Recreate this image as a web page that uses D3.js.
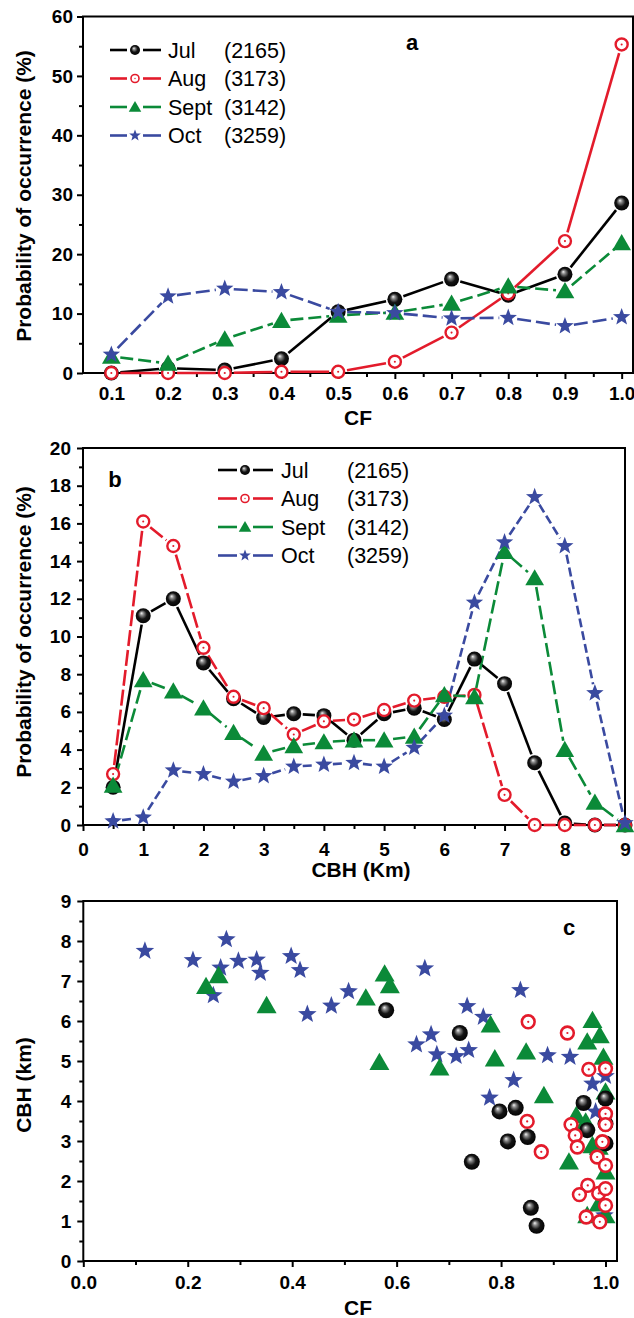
<!DOCTYPE html>
<html>
<head>
<meta charset="utf-8">
<script src="https://cdn.jsdelivr.net/npm/d3@7"></script>
<style>
  body { margin: 0; background: #fff; }
  text { font-family: "Liberation Sans", Arial, sans-serif; }
</style>
</head>
<body>
<div id="plot"></div>
<script>
// ---- data ----
var months = ["Jul", "Aug", "Sept", "Oct"];
var counts = ["(2165)", "(3173)", "(3142)", "(3259)"];

// panel a : probability vs cloud fraction
var cfBins = [0.1, 0.2, 0.3, 0.4, 0.5, 0.6, 0.7, 0.8, 0.9, 1.0];
var cfJul  = [0.0, 0.8, 0.5, 2.4, 10.3, 12.4, 15.8, 13.1, 16.6, 28.6];
var cfAug  = [0.0, 0.0, 0.0, 0.2, 0.2, 1.9, 6.8, 13.4, 22.2, 55.3];
var cfSept = [2.8, 1.6, 5.7, 8.8, 9.7, 10.2, 11.7, 14.6, 13.8, 21.9];
var cfOct  = [3.1, 12.9, 14.2, 13.6, 10.3, 10.1, 9.2, 9.3, 7.9, 9.4];

// panel b : probability vs cloud base height
var cbhBins = [0.5, 1, 1.5, 2, 2.5, 3, 3.5, 4, 4.5, 5, 5.5, 6, 6.5, 7, 7.5, 8, 8.5, 9];
var cbhJul  = [2.0, 11.1, 12.0, 8.6, 6.7, 5.7, 5.9, 5.8, 4.5, 5.9, 6.2, 5.6, 8.8, 7.5, 3.3, 0.1, 0.0, 0.0];
var cbhAug  = [2.7, 16.1, 14.8, 9.4, 6.8, 6.2, 4.8, 5.5, 5.6, 6.1, 6.6, 6.8, 6.9, 1.6, 0.0, 0.0, 0.0, 0.0];
var cbhSept = [2.1, 7.7, 7.1, 6.2, 4.9, 3.8, 4.2, 4.4, 4.5, 4.5, 4.7, 6.9, 6.8, 14.5, 13.1, 4.0, 1.2, 0.0];
var cbhOct  = [0.2, 0.4, 2.9, 2.7, 2.3, 2.6, 3.1, 3.2, 3.3, 3.1, 4.1, 5.8, 11.8, 15.0, 17.4, 14.8, 7.0, 0.1];

// panel c : scatter CBH vs CF
var scOctCF   = [0.118, 0.21, 0.274, 0.263, 0.249, 0.297, 0.332, 0.339, 0.398, 0.415, 0.429, 0.475, 0.508, 0.654, 0.735, 0.766, 0.837, 0.666, 0.638, 0.677, 0.714, 0.738, 0.889, 0.932, 0.824, 1.0, 0.975, 0.778, 0.981, 0.998];
var scOctCBH  = [7.75, 7.52, 8.04, 7.33, 6.64, 7.5, 7.53, 7.2, 7.62, 7.27, 6.17, 6.38, 6.74, 7.31, 6.37, 6.1, 6.77, 5.66, 5.41, 5.16, 5.12, 5.27, 5.14, 5.1, 4.52, 4.62, 4.43, 4.08, 3.73, 1.14];
var scSeptCF  = [0.235, 0.259, 0.351, 0.541, 0.577, 0.587, 0.567, 0.682, 0.78, 0.788, 0.848, 0.975, 0.989, 0.965, 0.996, 0.882, 1.0, 0.944, 0.962, 0.93, 0.975, 0.987, 1.0, 0.987, 0.965, 1.0];
var scSeptCBH = [6.87, 7.14, 6.39, 6.58, 7.18, 6.89, 4.97, 4.83, 5.91, 5.06, 5.23, 6.02, 5.64, 5.48, 5.1, 4.14, 4.23, 3.64, 3.48, 2.48, 2.89, 2.85, 2.23, 1.43, 1.14, 1.14];
var scJulCF   = [0.58, 0.721, 0.958, 1.0, 0.797, 0.828, 0.813, 0.851, 0.744, 0.857, 0.868, 1.0, 1.0, 0.965];
var scJulCBH  = [6.27, 5.7, 3.95, 4.06, 3.74, 3.83, 2.99, 3.1, 2.48, 1.33, 0.88, 2.94, 3.43, 3.27];
var scAugCF   = [0.852, 0.927, 0.968, 1.0, 0.85, 0.877, 0.934, 0.942, 0.946, 1.0, 1.0, 0.994, 0.984, 1.0, 0.966, 0.95, 0.987, 1.0, 1.0, 0.963, 0.989];
var scAugCBH  = [5.98, 5.7, 4.79, 4.81, 3.49, 2.73, 3.41, 3.14, 2.85, 3.68, 3.41, 2.98, 2.6, 2.39, 1.89, 1.66, 1.69, 1.81, 1.39, 1.1, 0.98];

var colors = ["#000000", "#e31b2b", "#0b8a38", "#3a4aa0"];

var width = 634, height = 1318;

var SVG = d3.select("#plot")
  .append("svg")
    .attr("width", width)
    .attr("height", height);

// sphere gradient for the black markers
var grad = SVG.append("defs").append("radialGradient")
    .attr("id", "sphere")
    .attr("cx", "0.5").attr("cy", "0.5").attr("r", "0.55")
    .attr("fx", "0.38").attr("fy", "0.32");
grad.append("stop").attr("offset", "0%").attr("stop-color", "#f4f4f4");
grad.append("stop").attr("offset", "22%").attr("stop-color", "#8a8a8a");
grad.append("stop").attr("offset", "55%").attr("stop-color", "#151515");
grad.append("stop").attr("offset", "100%").attr("stop-color", "#000");

function starPath(R) {
    var pts = [];
    for (var i = 0; i < 10; i++) {
        var r = i % 2 === 0 ? R : R * 0.42;
        var a = -Math.PI / 2 + i * Math.PI / 5;
        pts.push([r * Math.cos(a), r * Math.sin(a)]);
    }
    return "M" + pts.join("L") + "Z";
}

function triPath(s) {
    var h = s * Math.sqrt(3) / 2;
    return "M0," + (-h * 0.55) + "L" + (s / 2) + "," + (h * 0.45) + "L" + (-s / 2) + "," + (h * 0.45) + "Z";
}

// draw one marker of series k at (x, y)
function marker(g, k, x, y, size) {
    if (k === 0) {
        g.append("circle").attr("cx", x).attr("cy", y).attr("r", size)
            .attr("fill", "url(#sphere)");
    } else if (k === 1) {
        g.append("circle").attr("cx", x).attr("cy", y).attr("r", size * 0.8)
            .attr("fill", "#fff").attr("stroke", colors[1]).attr("stroke-width", size * 0.32);
        g.append("circle").attr("cx", x).attr("cy", y).attr("r", size * 0.14)
            .attr("fill", colors[1]);
    } else if (k === 2) {
        g.append("path").attr("d", triPath(size * 2.5))
            .attr("transform", "translate(" + x + "," + y + ")")
            .attr("fill", colors[2]);
    } else {
        g.append("path").attr("d", starPath(size * 1.22))
            .attr("transform", "translate(" + x + "," + y + ")")
            .attr("fill", colors[3]);
    }
}

// frame, axes and ticks of one panel
function drawFrame(p) {
    var g = SVG.append("g");
    g.append("rect")
        .attr("x", p.x.range()[0]).attr("y", p.y.range()[1])
        .attr("width", p.x.range()[1] - p.x.range()[0])
        .attr("height", p.y.range()[0] - p.y.range()[1])
        .attr("fill", "none").attr("stroke", "#000").attr("stroke-width", 2);

    g.append("g")
        .attr("transform", "translate(0," + p.y.range()[0] + ")")
        .call(d3.axisBottom(p.x).tickValues(p.xTicks).tickFormat(p.xFormat).tickSize(6).tickPadding(p.xPad));
    g.append("g")
        .attr("transform", "translate(0," + p.y.range()[0] + ")")
        .call(d3.axisBottom(p.x).tickValues(p.xMinor).tickFormat("").tickSize(4));

    g.append("g")
        .attr("transform", "translate(" + p.x.range()[0] + ",0)")
        .call(d3.axisLeft(p.y).tickValues(p.yTicks).tickFormat(p.yFormat).tickSize(6).tickPadding(p.yPad));
    g.append("g")
        .attr("transform", "translate(" + p.x.range()[0] + ",0)")
        .call(d3.axisLeft(p.y).tickValues(p.yMinor).tickFormat("").tickSize(4));

    g.selectAll(".domain").remove();
    g.selectAll(".tick line").attr("stroke", "#000").attr("stroke-width", 2);
    g.selectAll(".tick text")
        .attr("font-family", "Liberation Sans, Arial, sans-serif")
        .attr("font-weight", "bold")
        .attr("font-size", "19px")
        .attr("fill", "#000");

    // axis titles
    g.append("text")
        .attr("transform", "translate(" + p.yTitleX + "," + p.yTitleY + ") rotate(-90)")
        .attr("text-anchor", "middle")
        .attr("font-weight", "bold").attr("font-size", "21px")
        .text(p.yTitle);
    g.append("text")
        .attr("x", p.xTitleX).attr("y", p.xTitleY)
        .attr("text-anchor", "middle")
        .attr("font-weight", "bold").attr("font-size", "21px")
        .text(p.xTitle);

    // panel letter
    g.append("text")
        .attr("x", p.letterX).attr("y", p.letterY)
        .attr("text-anchor", "middle")
        .attr("font-family", "Liberation Serif, Times New Roman, serif")
        .attr("font-weight", "bold").attr("font-size", "22px")
        .text(p.letter);
    return g;
}

// line with gaps around each marker (Origin style)
function gappedLine(g, pts, color, dash, gap) {
    for (var i = 0; i < pts.length - 1; i++) {
        var x0 = pts[i][0], y0 = pts[i][1], x1 = pts[i + 1][0], y1 = pts[i + 1][1];
        var len = Math.sqrt((x1 - x0) * (x1 - x0) + (y1 - y0) * (y1 - y0));
        if (len <= 2 * gap) continue;
        var ux = (x1 - x0) / len, uy = (y1 - y0) / len;
        g.append("line")
            .attr("x1", x0 + ux * gap).attr("y1", y0 + uy * gap)
            .attr("x2", x1 - ux * gap).attr("y2", y1 - uy * gap)
            .attr("stroke", color).attr("stroke-width", 2.6)
            .attr("stroke-dasharray", dash);
    }
}

function drawLines(p, xs, series, dashes) {
    var g = SVG.append("g");
    series.forEach(function(vals, k) {
        var pts = vals.map(function(v, i) { return [p.x(xs[i]), p.y(v)]; });
        gappedLine(g, pts, colors[k], dashes[k], 9);
    });
    series.forEach(function(vals, k) {
        vals.forEach(function(v, i) { marker(g, k, p.x(xs[i]), p.y(v), 7.5); });
    });
}

function drawLegend(L) {
    var g = SVG.append("g");
    months.forEach(function(m, k) {
        var y = L.y + k * L.dy;
        g.append("line").attr("x1", L.x0).attr("x2", L.xm - 8).attr("y1", y).attr("y2", y)
            .attr("stroke", colors[k]).attr("stroke-width", 2.6);
        g.append("line").attr("x1", L.xm + 8).attr("x2", L.x1).attr("y1", y).attr("y2", y)
            .attr("stroke", colors[k]).attr("stroke-width", 2.6);
        marker(g, k, L.xm, y, 5);
        g.append("text").attr("x", L.tx).attr("y", y + 7.5)
            .attr("font-size", "21.5px").text(m);
        g.append("text").attr("x", L.cx).attr("y", y + 7.5)
            .attr("font-size", "21.5px").text(counts[k]);
    });
}

// ---- panel a ----
var pa = {
    x: d3.scaleLinear().domain([0.05, 1.02]).range([83, 633]),
    y: d3.scaleLinear().domain([0, 60]).range([373, 16.5]),
    xTicks: cfBins, xMinor: d3.range(0.15, 1.0, 0.1), xFormat: d3.format(".1f"), xPad: 8,
    yTicks: d3.range(0, 61, 10), yMinor: d3.range(5, 60, 10), yFormat: d3.format("d"), yPad: 4,
    yTitle: "Probability of occurrence (%)", yTitleX: 31, yTitleY: 196,
    xTitle: "CF", xTitleX: 358, xTitleY: 425,
    letter: "a", letterX: 412, letterY: 50
};
drawFrame(pa);
drawLines(pa, cfBins, [cfJul, cfAug, cfSept, cfOct], [null, null, "13,5", "14,5"]);
drawLegend({x0: 110, xm: 135, x1: 161, tx: 168, cx: 224, y: 50, dy: 28.5});

// ---- panel b ----
var pb = {
    x: d3.scaleLinear().domain([0, 9]).range([83, 625]),
    y: d3.scaleLinear().domain([0, 20]).range([825, 448]),
    xTicks: d3.range(0, 10, 1), xMinor: d3.range(0.5, 9, 1), xFormat: d3.format("d"), xPad: 12,
    yTicks: d3.range(0, 21, 2), yMinor: d3.range(1, 20, 2), yFormat: d3.format("d"), yPad: 6,
    yTitle: "Probability of occurrence (%)", yTitleX: 31, yTitleY: 632,
    xTitle: "CBH (Km)", xTitleX: 361, xTitleY: 877,
    letter: "b", letterX: 115, letterY: 487
};
drawFrame(pb);
drawLines(pb, cbhBins, [cbhJul, cbhAug, cbhSept, cbhOct], [null, "16,4", "14,5", "9,4"]);
drawLegend({x0: 218, xm: 245, x1: 273, tx: 281, cx: 347, y: 470, dy: 28.5});

// ---- panel c ----
var pc = {
    x: d3.scaleLinear().domain([0, 1.022]).range([83.3, 617]),
    y: d3.scaleLinear().domain([0, 9]).range([1261, 901]),
    xTicks: d3.range(0, 1.01, 0.2), xMinor: d3.range(0.1, 1.0, 0.2), xFormat: d3.format(".1f"), xPad: 9,
    yTicks: d3.range(0, 10, 1), yMinor: d3.range(0.5, 9, 1), yFormat: d3.format("d"), yPad: 6,
    yTitle: "CBH (km)", yTitleX: 31, yTitleY: 1085,
    xTitle: "CF", xTitleX: 358, xTitleY: 1315,
    letter: "c", letterX: 569, letterY: 935
};
drawFrame(pc);

var scatter = SVG.append("g");
var scSets = [[scOctCF, scOctCBH, 3], [scSeptCF, scSeptCBH, 2], [scJulCF, scJulCBH, 0], [scAugCF, scAugCBH, 1]];
scSets.forEach(function(s) {
    s[0].forEach(function(cf, i) {
        marker(scatter, s[2], pc.x(cf), pc.y(s[1][i]), 8);
    });
});
</script>
</body>
</html>
